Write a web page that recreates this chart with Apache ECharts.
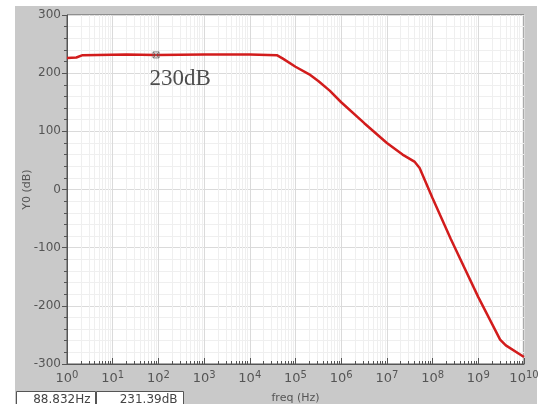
<!DOCTYPE html>
<html>
<head>
<meta charset="utf-8">
<script src="https://cdn.jsdelivr.net/npm/echarts@6/dist/echarts.min.js"></script>
<style>
  html, body { margin: 0; padding: 0; background: #fff; }
  #wrap { position: relative; width: 539px; height: 404px; }
  #panel { position: absolute; left: 15px; top: 6px; width: 522px; height: 398px; background: #c9c9c9; }
  #chart { position: absolute; left: 0; top: 0; width: 539px; height: 404px; }
</style>
</head>
<body>
<div id="wrap">
  <div id="panel"></div>
  <div id="chart"></div>
</div>
<script>
// 频率 (Hz) 与增益 (dB)
var freqs = [1, 1.6, 2.2, 20, 88.832, 1e3, 1e4, 3.9e4, 5.3e4, 1e5, 2e5, 3.2e5, 5.6e5, 1e6, 3.2e6, 1e7, 2.2e7, 4e7, 5.2e7, 1e8, 2.5e8, 1e9, 3e9, 4e9, 1e10];
var gains = [226, 227, 231, 232, 231.4, 232, 232, 231, 225, 211, 198, 186, 170, 150, 114, 80, 60, 48, 37, -15, -85, -185, -258, -268, -288];
var yTicks = [-300, -200, -100, 0, 100, 200, 300];
var markerPoint = [88.832, 231.39];
var markerLabel = '230dB';
var readoutX = '88.832Hz';
var readoutY = '231.39dB';

window.onload = function() {
    draw_chart();
}

function draw_chart() {
    var myChart = echarts.init(document.getElementById('chart'), null, { renderer: 'canvas' });
    var lineData = freqs.map(function(f, i) { return [f, gains[i]]; });
    var option = {
        backgroundColor: 'transparent',
        animation: false,
        grid: {
            left: 67, right: 15, top: 15, bottom: 40,
            outerBoundsMode: 'none', containLabel: false,
            show: true, backgroundColor: '#fff', borderColor: '#555', borderWidth: 1
        },
        xAxis: {
            type: 'log', logBase: 10, min: 1, max: 1e10, interval: 1, splitNumber: 10,
            name: 'freq (Hz)', nameLocation: 'middle', nameGap: 29, nameMoveOverlap: false,
            nameTextStyle: { fontFamily: 'DejaVu Sans', fontSize: 11, color: '#555' },
            axisLine: { onZero: false, lineStyle: { color: '#555' } },
            axisTick: { inside: true, length: 6, lineStyle: { color: '#555' } },
            minorTick: { show: true, splitNumber: 9, length: 3, lineStyle: { color: '#555' } },
            splitLine: { show: true, lineStyle: { color: '#dadada' } },
            minorSplitLine: { show: true, lineStyle: { color: '#efefef' } },
            axisLabel: {
                margin: 6,
                formatter: function(v) {
                    var e = Math.round(Math.log(v) / Math.LN10);
                    return '{b|10}{s|' + e + '}';
                },
                rich: {
                    b: { fontFamily: 'DejaVu Sans', fontSize: 13, color: '#555' },
                    s: { fontFamily: 'DejaVu Sans', fontSize: 10, color: '#555', verticalAlign: 'top', padding: [0, 0, 8, 0] }
                }
            }
        },
        yAxis: {
            type: 'value', min: yTicks[0], max: yTicks[yTicks.length - 1], interval: 100,
            name: 'Y0 (dB)', nameLocation: 'middle', nameGap: 34, nameRotate: 90, nameMoveOverlap: false,
            nameTextStyle: { fontFamily: 'DejaVu Sans', fontSize: 11, color: '#555' },
            axisLine: { show: true, lineStyle: { color: '#555' } },
            axisTick: { show: true, length: 5, lineStyle: { color: '#555' } },
            minorTick: { show: true, splitNumber: 5, length: 3, lineStyle: { color: '#555' } },
            splitLine: { show: true, lineStyle: { color: '#dadada' } },
            minorSplitLine: { show: true, lineStyle: { color: '#efefef' } },
            axisLabel: { margin: 6, fontFamily: 'DejaVu Sans', fontSize: 12, color: '#555' }
        },
        series: [{
            name: 'Y0',
            type: 'line',
            data: lineData,
            showSymbol: false,
            lineStyle: { color: '#d21c1c', width: 2.5 },
            z: 3
        }, {
            name: 'marker',
            type: 'scatter',
            data: [markerPoint],
            symbol: 'path://M0,0H10V10H0Z M0,0L10,10 M10,0L0,10',
            symbolSize: 6,
            itemStyle: { color: 'rgba(0,0,0,0)', borderColor: '#666', borderWidth: 1 },
            label: {
                show: true, formatter: markerLabel, position: [-3, 16],
                fontFamily: 'Liberation Serif', fontSize: 23, color: '#222'
            },
            z: 4
        }],
        graphic: [{
            type: 'group', left: 16, top: 391,
            children: [
                { type: 'rect', shape: { x: 0, y: 0, width: 79, height: 16 }, style: { fill: '#fff', stroke: '#555', lineWidth: 1 } },
                { type: 'text', x: 74, y: 8, style: { text: readoutX, fontFamily: 'DejaVu Sans', fontSize: 12, fill: '#444', align: 'right', verticalAlign: 'middle' } },
                { type: 'rect', shape: { x: 80, y: 0, width: 87, height: 16 }, style: { fill: '#fff', stroke: '#555', lineWidth: 1 } },
                { type: 'text', x: 161, y: 8, style: { text: readoutY, fontFamily: 'DejaVu Sans', fontSize: 12, fill: '#444', align: 'right', verticalAlign: 'middle' } }
            ]
        }]
    };
    myChart.setOption(option);
}
</script>
</body>
</html>
